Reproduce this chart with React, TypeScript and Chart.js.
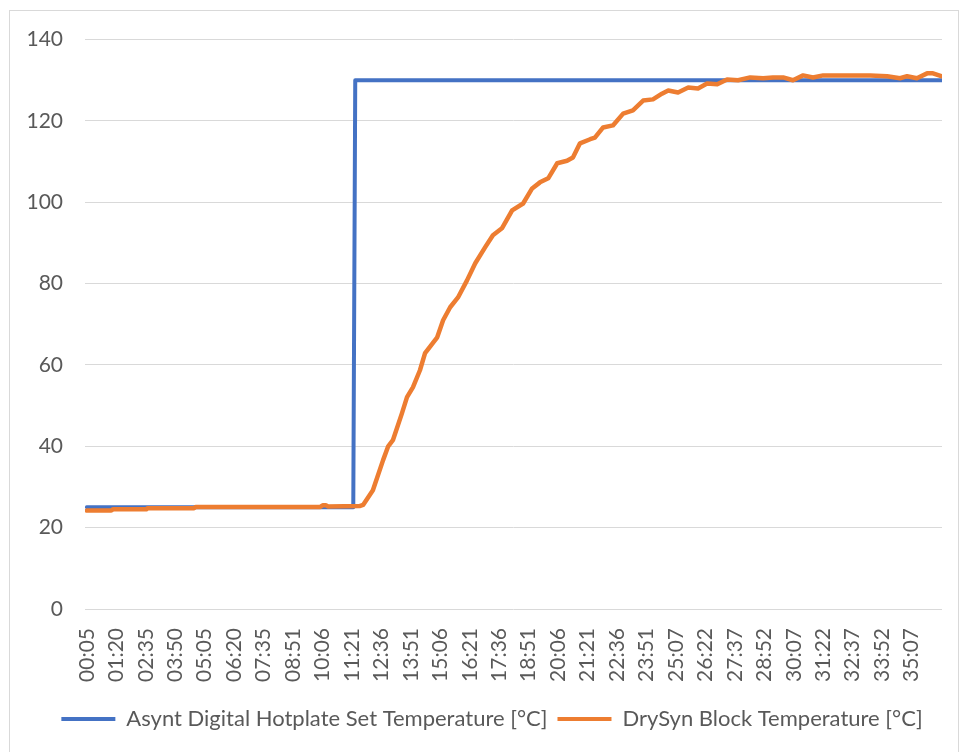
import React, { useEffect, useRef } from "react";
import { Chart, registerables } from "chart.js";

Chart.register(...registerables);

// x tick labels (mm:ss) and their time in seconds
const tickLabels = [
  "00:05", "01:20", "02:35", "03:50", "05:05", "06:20", "07:35", "08:51", "10:06", "11:21",
  "12:36", "13:51", "15:06", "16:21", "17:36", "18:51", "20:06", "21:21", "22:36", "23:51",
  "25:07", "26:22", "27:37", "28:52", "30:07", "31:22", "32:37", "33:52", "35:07",
];
const tickSeconds = [
  5, 80, 155, 230, 305, 380, 455, 531, 606, 681,
  756, 831, 906, 981, 1056, 1131, 1206, 1281, 1356, 1431,
  1507, 1582, 1657, 1732, 1807, 1882, 1957, 2032, 2107,
];

// Asynt Digital Hotplate Set Temperature
const setTimes = [5, 684, 689, 2183];
const setTemps = [25, 25, 130, 130];

// DrySyn Block Temperature
const blockTimes = [
  5, 67, 71, 156, 160, 278, 282, 600, 606, 614,
  620, 700, 709, 734, 760, 773, 785, 808, 821, 836,
  854, 867, 898, 913, 931, 951, 974, 995, 1020, 1040,
  1063, 1089, 1117, 1140, 1160, 1181, 1204, 1229, 1244, 1262,
  1288, 1300, 1321, 1346, 1372, 1397, 1423, 1448, 1471, 1487,
  1512, 1538, 1563, 1586, 1612, 1637, 1665, 1696, 1729, 1754,
  1780, 1805, 1831, 1856, 1882, 1943, 2002, 2045, 2078, 2096,
  2121, 2147, 2162, 2183,
];
const blockTemps = [
  24.2, 24.2, 24.5, 24.5, 24.8, 24.8, 25.1, 25.1, 25.5, 25.5,
  25.2, 25.3, 25.6, 29.2, 36.6, 40.0, 41.5, 48.1, 52.1, 54.5,
  58.7, 62.9, 66.8, 71.0, 74.2, 76.6, 80.8, 85.0, 88.9, 91.9,
  93.6, 98.0, 99.7, 103.4, 104.9, 105.9, 109.6, 110.2, 111.0, 114.5,
  115.5, 115.9, 118.4, 118.9, 121.8, 122.6, 125.0, 125.3, 126.7, 127.5,
  127.0, 128.2, 128.0, 129.2, 129.0, 130.2, 130.0, 130.7, 130.5, 130.7,
  130.7, 130.0, 131.2, 130.7, 131.2, 131.2, 131.2, 131.0, 130.5, 131.0,
  130.5, 131.7, 131.7, 131.0,
];

const seriesNames = [
  "Asynt Digital Hotplate Set Temperature [°C]",
  "DrySyn Block Temperature [°C]",
];

const BLUE = "#4472C4";
const ORANGE = "#ED7D31";
const TEXT = "#595959";
const GRID = "#d9d9d9";
const FONT = "Lato";

const legendShift = {
  id: "legendShift",
  afterLayout(chart: any) {
    if (chart.legend) {
      chart.legend.left += 16;
      chart.legend.right += 16;
    }
  },
};

export default function App() {
  const ref = useRef<HTMLCanvasElement | null>(null);

  useEffect(() => {
    if (!ref.current) return;
    const chart = new Chart(ref.current, {
      type: "line",
      data: {
        datasets: [
          {
            label: seriesNames[0],
            data: setTimes.map((t, i) => ({ x: t, y: setTemps[i] })),
            borderColor: BLUE,
            backgroundColor: BLUE,
            borderWidth: 4,
            pointRadius: 0,
            tension: 0,
            borderCapStyle: "round",
            borderJoinStyle: "round",
            order: 1,
          },
          {
            label: seriesNames[1],
            data: blockTimes.map((t, i) => ({ x: t, y: blockTemps[i] })),
            borderColor: ORANGE,
            backgroundColor: ORANGE,
            borderWidth: 4.5,
            pointRadius: 0,
            tension: 0,
            borderCapStyle: "round",
            borderJoinStyle: "round",
            order: 0,
          },
        ],
      },
      plugins: [legendShift],
      options: {
        animation: false,
        responsive: false,
        devicePixelRatio: 1,
        events: [],
        layout: { padding: { top: 0, right: 16, bottom: 12, left: 0 } },
        plugins: {
          tooltip: { enabled: false },
          legend: {
            position: "bottom",
            labels: {
              font: { family: FONT, size: 22 },
              color: TEXT,
              boxWidth: 54,
              boxHeight: 4,
              padding: 10,
              generateLabels: (c: any) =>
                c.data.datasets.map((ds: any, i: number) => ({
                  text: ds.label,
                  fillStyle: ds.borderColor,
                  strokeStyle: ds.borderColor,
                  lineWidth: 0,
                  hidden: false,
                  datasetIndex: i,
                  fontColor: TEXT,
                })),
            },
          },
        },
        scales: {
          x: {
            type: "linear",
            min: 0,
            max: 2185,
            grid: { display: false },
            border: { display: false },
            afterBuildTicks: (axis: any) => {
              axis.ticks = tickSeconds.map((v) => ({ value: v }));
            },
            afterFit: (axis: any) => {
              axis.height = 89;
            },
            ticks: {
              autoSkip: false,
              minRotation: 90,
              maxRotation: 90,
              padding: 11,
              color: TEXT,
              font: { family: FONT, size: 21 },
              callback: (_v: any, i: number) => tickLabels[i],
            },
          },
          y: {
            min: 0,
            max: 140,
            grid: { color: GRID, lineWidth: 1, drawTicks: false },
            border: { display: false },
            afterFit: (axis: any) => {
              axis.width = 75;
            },
            ticks: {
              stepSize: 20,
              padding: 22,
              color: TEXT,
              font: { family: FONT, size: 21 },
            },
          },
        },
      },
    } as any);
    return () => chart.destroy();
  }, []);

  return (
    <div
      style={{
        position: "fixed",
        left: 9,
        top: 10,
        width: 948,
        height: 760,
        border: `1px solid ${GRID}`,
        background: "#fff",
      }}
    >
      <canvas
        ref={ref}
        width={948}
        height={747}
        style={{ display: "block", width: 948, height: 747, marginTop: -6 }}
      />
    </div>
  );
}
